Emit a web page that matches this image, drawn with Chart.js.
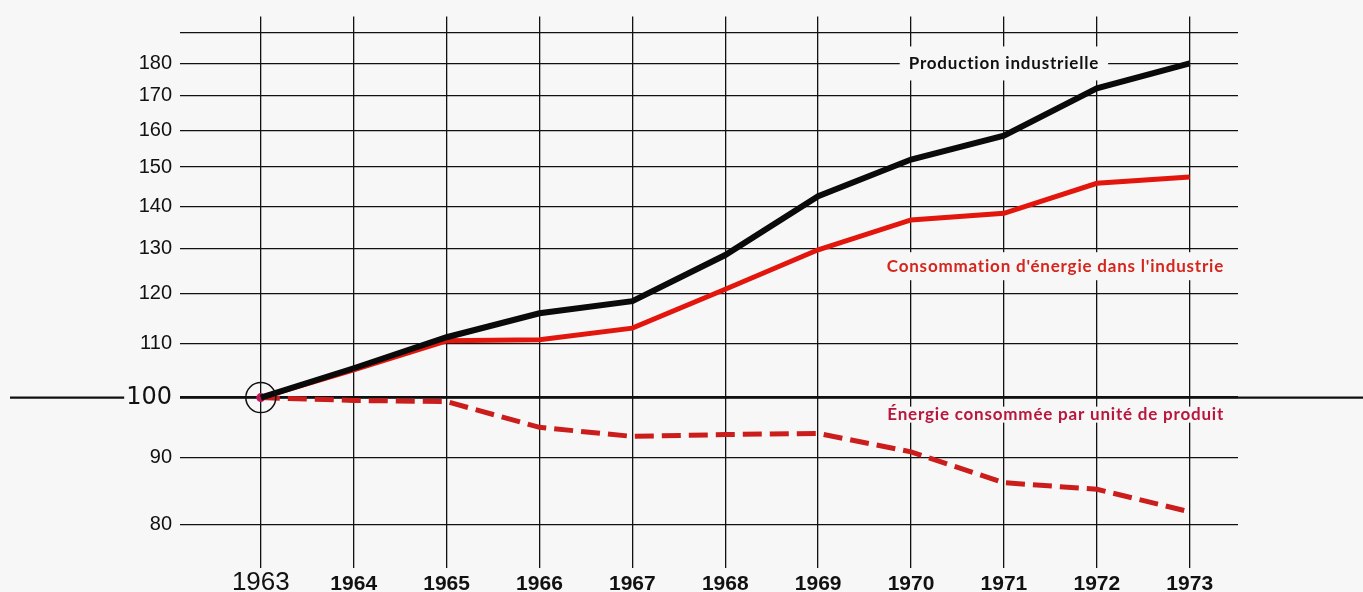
<!DOCTYPE html>
<html lang="fr">
<head>
<meta charset="UTF-8">
<title>Production industrielle et énergie, 1963-1973</title>
<script src="https://cdn.jsdelivr.net/npm/chart.js"></script>
<style>
  html, body { margin: 0; padding: 0; background: #f7f7f7; overflow: hidden; }
  #wrap { width: 1363px; height: 592px; position: relative; }
</style>
</head>
<body>
<div id="wrap"><canvas id="chart"></canvas></div>
<script>
// indices, base 100 en 1963 (échelle logarithmique)
const years = [1963, 1964, 1965, 1966, 1967, 1968, 1969, 1970, 1971, 1972, 1973];
const production = [100, 105.3, 111.2, 116, 118.5, 128.5, 142.5, 152, 158.5, 172.3, 180];
const consommation = [100, 105, 110.5, 110.7, 113, 121, 129.7, 136.7, 138.3, 145.8, 147.4];
const energieParUnite = [100, 99.5, 99.3, 94.9, 93.4, 93.7, 93.9, 90.9, 86.1, 85.1, 81.8];
const yTicks = [80, 90, 100, 110, 120, 130, 140, 150, 160, 170, 180, 190];

// étiquettes posées sur le graphique (coordonnées en données)
const notes = [
  { text: 'Production industrielle', x: 1971, y: 180, align: 'center', color: '#111111', padX: 9, padY: 17 },
  { text: "Consommation d'énergie dans l'industrie", x: 1973.37, y: 126, align: 'right', color: '#d4261c', padX: 4, padY: 14 },
  { text: 'Énergie consommée par unité de produit', x: 1973.37, y: 97.05, align: 'right', color: '#b8163c', padX: 4, padY: 8 }
];

const BG = '#f7f7f7';
const INK = '#111111';

const toXY = arr => arr.map((v, i) => ({ x: years[i], y: v }));

const overlay = {
  id: 'overlay',
  beforeDatasetsDraw(chart) {
    const { ctx, chartArea, scales: { x, y } } = chart;
    const py = y.getPixelForValue(100);
    ctx.save();
    // ligne de base 100 sur toute la largeur
    ctx.font = '24px "DejaVu Sans"';
    const labelLeft = chartArea.left - 8 - ctx.measureText('100').width;
    ctx.strokeStyle = INK;
    ctx.lineWidth = 2.2;
    ctx.beginPath();
    ctx.moveTo(10, py);
    ctx.lineTo(labelLeft - 2, py);
    ctx.moveTo(chartArea.left, py);
    ctx.lineTo(chart.width, py);
    ctx.stroke();

    ctx.font = 'bold 17px Lato';
    ctx.letterSpacing = '0.8px';
    ctx.textBaseline = 'middle';
    ctx.textAlign = 'left';
    notes.forEach(n => {
      const w = ctx.measureText(n.text).width;
      const px = x.getPixelForValue(n.x);
      const ny = y.getPixelForValue(n.y);
      const left = n.align === 'right' ? px - w : px - w / 2;
      ctx.fillStyle = BG;
      ctx.fillRect(left - n.padX, ny - n.padY, w + 2 * n.padX, 2 * n.padY);
      ctx.fillStyle = n.color;
      ctx.fillText(n.text, left, ny);
    });
    ctx.restore();
  }
};

new Chart(document.getElementById('chart'), {
  type: 'line',
  data: {
    datasets: [
      {
        label: 'Production industrielle',
        data: toXY(production),
        borderColor: '#0a0a0a',
        borderWidth: 6,
        pointRadius: ctx => ctx.dataIndex === 0 ? 15 : 0,
        pointBorderColor: INK,
        pointBorderWidth: 1.5,
        pointBackgroundColor: 'rgba(0,0,0,0)',
        tension: 0
      },
      {
        label: "Consommation d'énergie dans l'industrie",
        data: toXY(consommation),
        borderColor: '#e3160e',
        borderWidth: 5,
        pointRadius: 0,
        tension: 0
      },
      {
        label: 'Énergie consommée par unité de produit',
        data: toXY(energieParUnite),
        borderColor: '#cc1d1d',
        borderWidth: 5,
        borderDash: [19, 8],
        pointRadius: ctx => ctx.dataIndex === 0 ? 4.5 : 0,
        pointBackgroundColor: '#c2185b',
        pointBorderWidth: 0,
        tension: 0
      }
    ]
  },
  options: {
    responsive: true,
    maintainAspectRatio: false,
    animation: false,
    layout: { padding: { top: 15, right: 125, left: 0, bottom: 0 } },
    plugins: {
      legend: { display: false },
      tooltip: { enabled: false }
    },
    scales: {
      x: {
        type: 'linear',
        min: 1962.13,
        max: 1973.52,
        afterBuildTicks: scale => { scale.ticks = years.map(v => ({ value: v })); },
        afterFit: scale => {
          scale.height = 24;
          scale.paddingLeft = 0;
          scale.paddingRight = 0;
        },
        border: { display: false },
        grid: { color: INK, lineWidth: 1.3, drawTicks: false },
        ticks: {
          autoSkip: false,
          maxRotation: 0,
          padding: 4,
          color: INK,
          callback: v => String(v),
          font: ctx => (ctx.tick && ctx.tick.value === 1963)
            ? { family: '"Liberation Sans", Arial', size: 26, lineHeight: 0.8 }
            : { family: '"Liberation Sans Narrow", "Liberation Sans", Arial', size: 21, weight: 'bold', lineHeight: 1.2 }
        }
      },
      y: {
        type: 'logarithmic',
        min: 74.1,
        max: 195.5,
        bounds: 'data',
        afterBuildTicks: scale => { scale.ticks = yTicks.map(v => ({ value: v })); },
        afterFit: scale => {
          scale.width = 180;
          scale.paddingTop = 0;
          scale.paddingBottom = 0;
        },
        border: { display: false },
        grid: {
          color: INK,
          lineWidth: ctx => (ctx.tick && ctx.tick.value === 100) ? 2.2 : 1.3,
          drawTicks: false
        },
        ticks: {
          padding: 8,
          color: INK,
          callback: v => v === 190 ? '' : String(v),
          font: ctx => (ctx.tick && ctx.tick.value === 100)
            ? { family: '"DejaVu Sans"', size: 24 }
            : { family: '"Liberation Sans", Arial', size: 20 }
        }
      }
    }
  },
  plugins: [overlay]
});
</script>
</body>
</html>
